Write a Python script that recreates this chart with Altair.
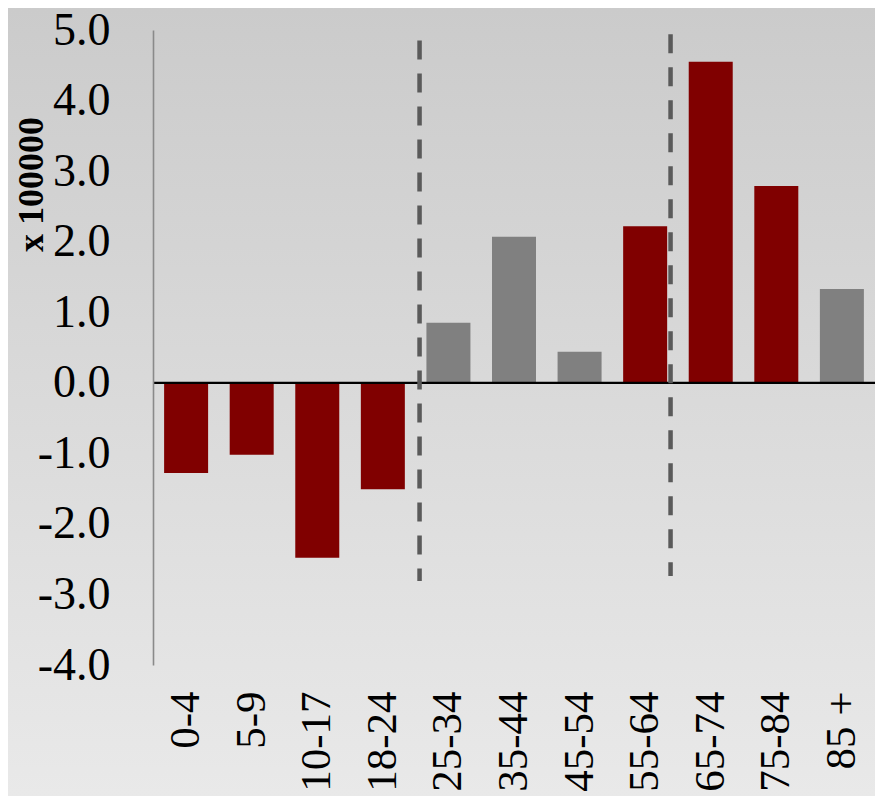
import altair as alt
import pandas as pd

# ---- data ----
categories = ["0-4", "5-9", "10-17", "18-24", "25-34", "35-44", "45-54",
              "55-64", "65-74", "75-84", "85 +"]
values = [-1.28, -1.02, -2.48, -1.51, 0.85, 2.07, 0.44, 2.22, 4.55, 2.79, 1.33]
highlighted = [True, True, True, True, False, False, False, True, True, True, False]

# dashed dividers: category at whose band they sit, top and bottom (data units)
divider_cats = ["25-34", "65-74"]
divider_top = [4.85, 4.94]
divider_bottom = [-2.81, -2.74]

W, H = 722, 635
PAD = {"left": 145, "top": 22, "right": 0, "bottom": 131}

df = pd.DataFrame({
    "cat": categories,
    "value": values,
    "group": ["hi" if h else "lo" for h in highlighted],
})

xscale = alt.Scale(domain=categories, paddingInner=0.33, paddingOuter=0.17)
yscale = alt.Scale(domain=[-4, 5], nice=False, zero=False)

bg = alt.Chart(pd.DataFrame({"a": [0]})).mark_rect(
    fill={
        "gradient": "linear", "x1": 0, "y1": 0, "x2": 0, "y2": 1,
        "stops": [{"offset": 0, "color": "#cbcbcb"}, {"offset": 1, "color": "#e9e9e9"}],
    }
).encode(
    x=alt.value(-PAD["left"]), x2=alt.value(W + 5),
    y=alt.value(-PAD["top"]), y2=alt.value(H + PAD["bottom"]),
)

bars = alt.Chart(df).mark_bar(size=44).encode(
    x=alt.X("cat:N", scale=xscale, sort=categories,
            axis=alt.Axis(title=None, labelAngle=-90, domain=False, ticks=False,
                          tickSize=0, labelPadding=26, labelFontSize=43,
                          labelColor="#000000", labelFont="Liberation Serif",
                          zindex=2)),
    y=alt.Y("value:Q", scale=yscale,
            axis=alt.Axis(title="x 100000", values=list(range(-4, 6)),
                          labelExpr="(datum.value < 0 ? '-' : '') + format(abs(datum.value), '.1f')",
                          grid=False, ticks=False, tickSize=0, labelPadding=43,
                          labelFontSize=46, labelColor="#000000",
                          labelFont="Liberation Serif",
                          domainColor="#8a8a8a", domainWidth=1.6,
                          titleFont="Liberation Serif", titleFontSize=36,
                          titleFontWeight="bold", titleColor="#000000",
                          titleAngle=270, titleAlign="center",
                          titleBaseline="alphabetic", titleX=-111, titleY=154,
                          zindex=2)),
    color=alt.Color("group:N", scale=alt.Scale(domain=["hi", "lo"],
                                               range=["#800000", "#808080"]),
                    legend=None),
)

zero = alt.Chart(pd.DataFrame({"a": [0]})).mark_rule(color="#000000", strokeWidth=2.2).encode(
    y=alt.datum(0, scale=yscale)
)

offsets = [-6.9, -18.2]
divs = []
for c, t, b, off in zip(divider_cats, divider_top, divider_bottom, offsets):
    d = pd.DataFrame({"cat": [c], "top": [t], "bottom": [b]})
    divs.append(
        alt.Chart(d).mark_rule(color="#5a5a5a", strokeWidth=4.5,
                               strokeDash=[19, 14], xOffset=off).encode(
            x=alt.X("cat:N", scale=xscale, sort=categories, bandPosition=0),
            y=alt.Y("top:Q", scale=yscale),
            y2="bottom:Q",
        )
    )

chart = alt.layer(bg, bars, zero, *divs).properties(
    width=W, height=H,
    padding=PAD,
    autosize=alt.AutoSizeParams(type="none"),
    background="#dadada",
).configure_view(stroke=None).configure(font="Liberation Serif")

chart.save("out.html", embed_options={"renderer": "svg", "actions": False})
